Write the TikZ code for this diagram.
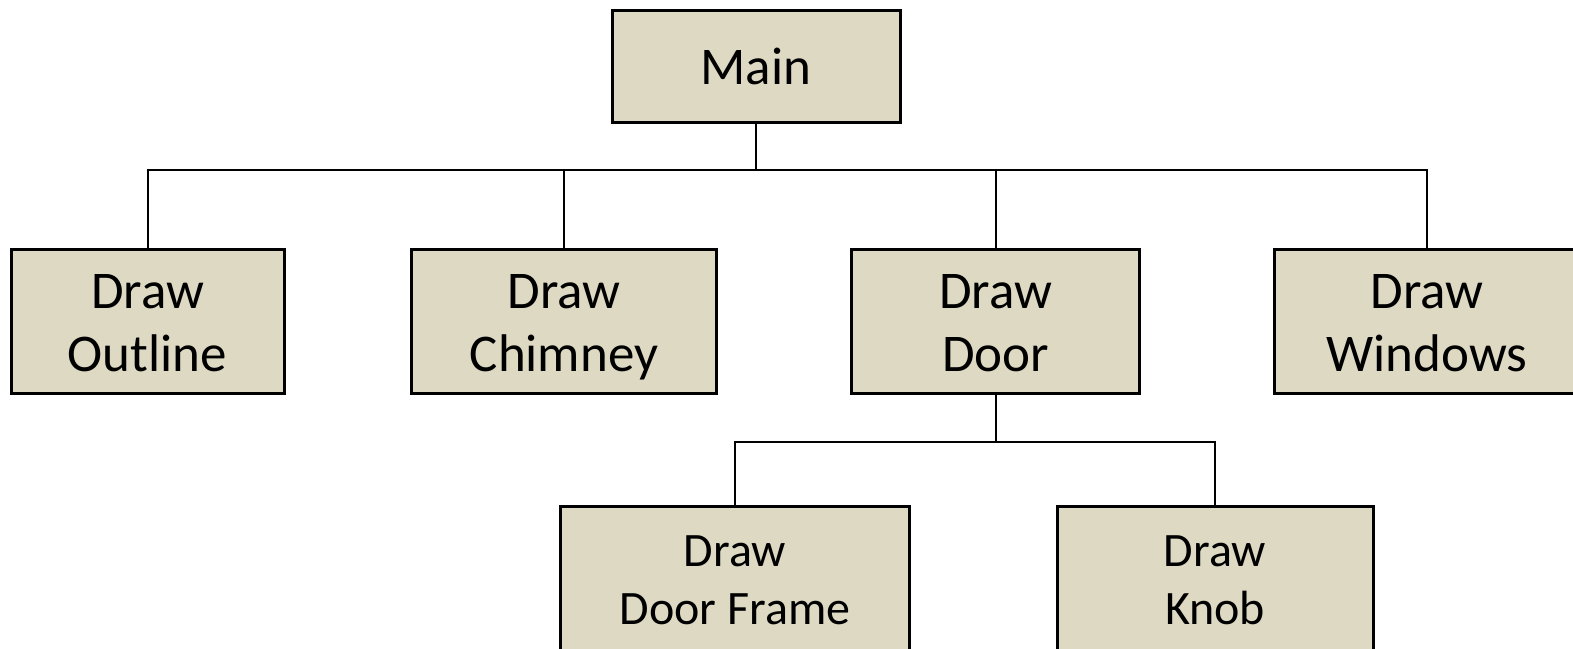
\documentclass[tikz,border=0pt]{standalone}
\usepackage{fontspec}
\setmainfont{Carlito}
\usetikzlibrary{positioning}
\definecolor{boxtan}{HTML}{DDD9C3}

\begin{document}
\begin{tikzpicture}[
  x=0.5pt, y=-0.5pt,
  box/.style={draw, fill=boxtan, line width=1.5pt, align=center, inner sep=0pt,
    minimum height=72pt, text height=55.5pt, text depth=5pt,
    font=\fontsize{26.5}{31.5}\selectfont},
  subbox/.style={box, text height=51pt, text depth=5pt,
    font=\fontsize{24}{29}\selectfont},
  link/.style={line width=1pt}
]
\useasboundingbox (0,0) rectangle (1573,648);

% top level
\node[box, minimum width=144pt, minimum height=56pt, text height=18pt, text depth=0pt] (main) at (756,66) {Main};

% second level
\node[box, minimum width=136.5pt] (outline) at (147.5,321) {Draw\\Outline};
\node[box, minimum width=152.5pt] (chimney) at (564,321) {Draw\\Chimney};
\node[box, minimum width=144pt] (door) at (995.5,321) {Draw\\Door};
\node[box, minimum width=152.5pt] (windows) at (1427,321) {Draw\\Windows};

% under the door
\node[subbox, minimum width=174.5pt] (frame) at (735,578) {Draw\\Door Frame};
\node[subbox, minimum width=158pt] (knob) at (1215,578) {Draw\\Knob};

\coordinate (bus) at (756,170);
\coordinate (doorbus) at (995.5,442);

\draw[link] (main.south) -- (bus);
\draw[link] (outline.north) |- (bus) -| (windows.north);
\draw[link] (chimney.north) -- (chimney.north |- bus);
\draw[link] (door.north) -- (door.north |- bus);

\draw[link] (door.south) -- (doorbus);
\draw[link] (frame.north) |- (doorbus) -| (knob.north);
\end{tikzpicture}
\end{document}
